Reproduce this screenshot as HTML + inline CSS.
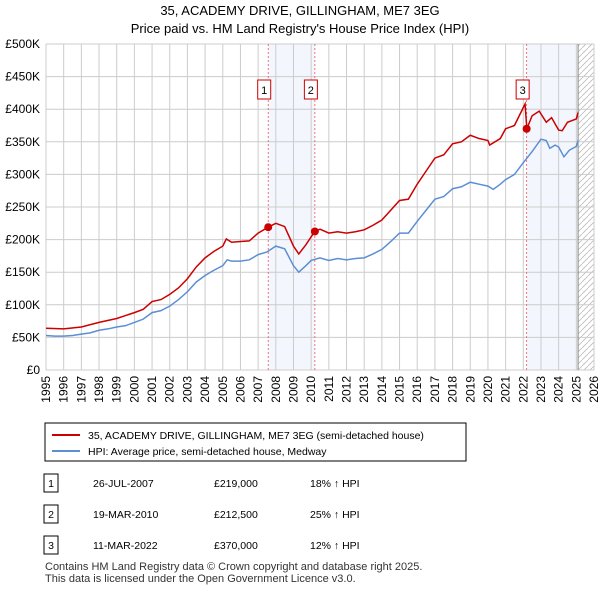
<!DOCTYPE html>
<html><head><meta charset="utf-8"><style>
body{margin:0;background:#fff;font-family:"Liberation Sans",sans-serif;}
svg text{font-family:"Liberation Sans",sans-serif;}
</style></head><body>
<svg id="c" width="600" height="590">
<text x="300" y="15" text-anchor="middle" font-size="13">35, ACADEMY DRIVE, GILLINGHAM, ME7 3EG</text>
<text x="300" y="33" text-anchor="middle" font-size="13">Price paid vs. HM Land Registry's House Price Index (HPI)</text>
<g id="plot"></g>
<rect x="45" y="423" width="421" height="38" fill="#fff" stroke="#000"/>
<line x1="52" y1="435" x2="80" y2="435" stroke="#cc0000" stroke-width="2"/>
<text x="88" y="439" font-size="10.5">35, ACADEMY DRIVE, GILLINGHAM, ME7 3EG (semi-detached house)</text>
<line x1="52" y1="451" x2="80" y2="451" stroke="#5b8fd4" stroke-width="2"/>
<text x="88" y="455" font-size="10.5">HPI: Average price, semi-detached house, Medway</text>
<g id="tbl" font-size="10.5"></g>
<text x="45" y="570" font-size="11" fill="#333">Contains HM Land Registry data © Crown copyright and database right 2025.</text>
<text x="45" y="582" font-size="11" fill="#333">This data is licensed under the Open Government Licence v3.0.</text>
</svg>
<script>
const hpiT=[1995,1995.5,1996,1996.5,1997,1997.5,1998,1998.5,1999,1999.5,2000,2000.5,2001,2001.5,2002,2002.5,2003,2003.5,2004,2004.5,2005,2005.25,2005.5,2006,2006.5,2007,2007.5,2008,2008.5,2009,2009.3,2009.7,2010,2010.5,2011,2011.5,2012,2012.5,2013,2013.5,2014,2014.5,2015,2015.5,2016,2016.5,2017,2017.5,2018,2018.5,2019,2019.5,2020,2020.3,2020.7,2021,2021.5,2022,2022.5,2023,2023.3,2023.5,2023.8,2024,2024.3,2024.6,2025,2025.1];
const hpiV=[53,52,52,53,55,57,61,63,66,68,73,78,88,91,98,108,120,135,145,153,160,169,167,167,169,177,181,190,186,160,150,160,168,172,168,171,169,171,172,178,185,197,210,210,228,245,262,266,278,281,288,285,282,277,285,292,300,318,335,354,352,340,345,342,327,337,343,352];
const ppT=[1995,1996,1997,1998,1999,2000,2000.5,2001,2001.5,2002,2002.5,2003,2003.5,2004,2004.5,2005,2005.2,2005.5,2006,2006.5,2007,2007.57,2008,2008.5,2009,2009.3,2009.7,2010.2,2010.5,2011,2011.5,2012,2012.5,2013,2013.5,2014,2014.5,2015,2015.5,2016,2016.5,2017,2017.5,2018,2018.5,2019,2019.5,2020,2020.1,2020.7,2021,2021.5,2022.1,2022.2,2022.5,2022.9,2023.3,2023.6,2024,2024.2,2024.5,2025,2025.1];
const ppV=[64,63,66,73,79,88,93,105,108,116,126,140,158,172,182,190,201,196,197,198,210,219,225,220,190,178,192,212.5,216,210,212,210,212,215,222,230,245,260,262,285,305,325,330,347,350,360,355,352,345,355,370,375,408,370,390,397,380,387,368,367,380,385,395];
const salesT=[2007.57,2010.21,2022.19];
const salesV=[219,212.5,370];
const salesLabel=["1","2","3"];
const salesDate=["26-JUL-2007","19-MAR-2010","11-MAR-2022"];
const salesPrice=["£219,000","£212,500","£370,000"];
const salesHpi=["18% ↑ HPI","25% ↑ HPI","12% ↑ HPI"];
const yTicks=[0,50,100,150,200,250,300,350,400,450,500];
const yLabels=["£0","£50K","£100K","£150K","£200K","£250K","£300K","£350K","£400K","£450K","£500K"];
const x0=46,x1=594,y0=370,y1=44;
const X=t=>x0+(t-1995)*(x1-x0)/31, Y=v=>y0-v*(y0-y1)/500;
const NS="http://www.w3.org/2000/svg",g=document.getElementById('plot');
function el(tag,a,p){const e=document.createElementNS(NS,tag);for(const k in a)e.setAttribute(k,a[k]);(p||g).appendChild(e);return e;}
let r=el('rect',{x:X(salesT[0]),y:y1,width:X(salesT[1])-X(salesT[0]),height:y0-y1,fill:'#eef3fc',opacity:0.7});

r=el('rect',{x:X(salesT[2]),y:y1,width:X(2025.1)-X(salesT[2]),height:y0-y1,fill:'#eef3fc',opacity:0.7});

const defs=el('defs',{});const pat=el('pattern',{id:'h',width:6,height:6,patternUnits:'userSpaceOnUse'},defs);
el('path',{d:'M0,6 L6,0',stroke:'#bbb','stroke-width':0.8},pat);
r=el('rect',{x:X(2025.1),y:y1,width:x1-X(2025.1),height:y0-y1,fill:'url(#h)'});

for(let yr=1995;yr<=2026;yr++){
 let l=el('line',{x1:X(yr),x2:X(yr),y1:y1,y2:y0,stroke:'#ccc'});
 
 let t=el('text',{x:0,y:0,'font-size':12,'text-anchor':'end',transform:`translate(${X(yr)+4},${y0+6}) rotate(-90)`});
 t.textContent=yr;
}
yTicks.forEach((v,i)=>{
 let l=el('line',{x1:x0,x2:x1,y1:Y(v),y2:Y(v),stroke:'#ccc'});
 
 let t=el('text',{x:x0-6,y:Y(v)+4,'font-size':12,'text-anchor':'end'});
 t.textContent=yLabels[i];
});
let bl=el('line',{x1:X(2025.1),x2:X(2025.1),y1:y1,y2:y0,stroke:'#888'});

salesT.forEach((t,i)=>{
 let l=el('line',{x1:X(t),x2:X(t),y1:y1,y2:y0,stroke:'#e55','stroke-dasharray':'2,2','stroke-width':0.8});
 
});
function line(T,V,c,n){let p=el('polyline',{points:T.map((t,i)=>X(t)+','+Y(V[i])).join(' '),fill:'none',stroke:c,'stroke-width':1.5});
 }
line(hpiT,hpiV,'#5b8fd4','hpi-line');
line(ppT,ppV,'#cc0000','price-paid-line');
salesT.forEach((t,i)=>{
 let c=el('circle',{cx:X(t),cy:Y(salesV[i]),r:4,fill:'#cc0000'});
 
 let b=el('rect',{x:X(t)-10.5,y:y1+36,width:13,height:19,fill:'#fff',stroke:'#cc0000'});
 
 let tx=el('text',{x:X(t)-4,y:y1+50,'font-size':11,'text-anchor':'middle'});
 tx.textContent=salesLabel[i];
});
const tb=document.getElementById('tbl');
[483,514,545].forEach((yy,i)=>{
 let b=el('rect',{x:44,y:yy-9,width:14,height:18,fill:'#fff',stroke:'#000'},tb);
 
 let vals=[[51,salesLabel[i],'middle'],[93,salesDate[i],'start'],[214,salesPrice[i],'start'],[310,salesHpi[i],'start']];
 vals.forEach(v=>{let t=el('text',{x:v[0],y:yy+4,'text-anchor':v[2]},tb);t.textContent=v[1];
  });
});
</script>
</body></html>
